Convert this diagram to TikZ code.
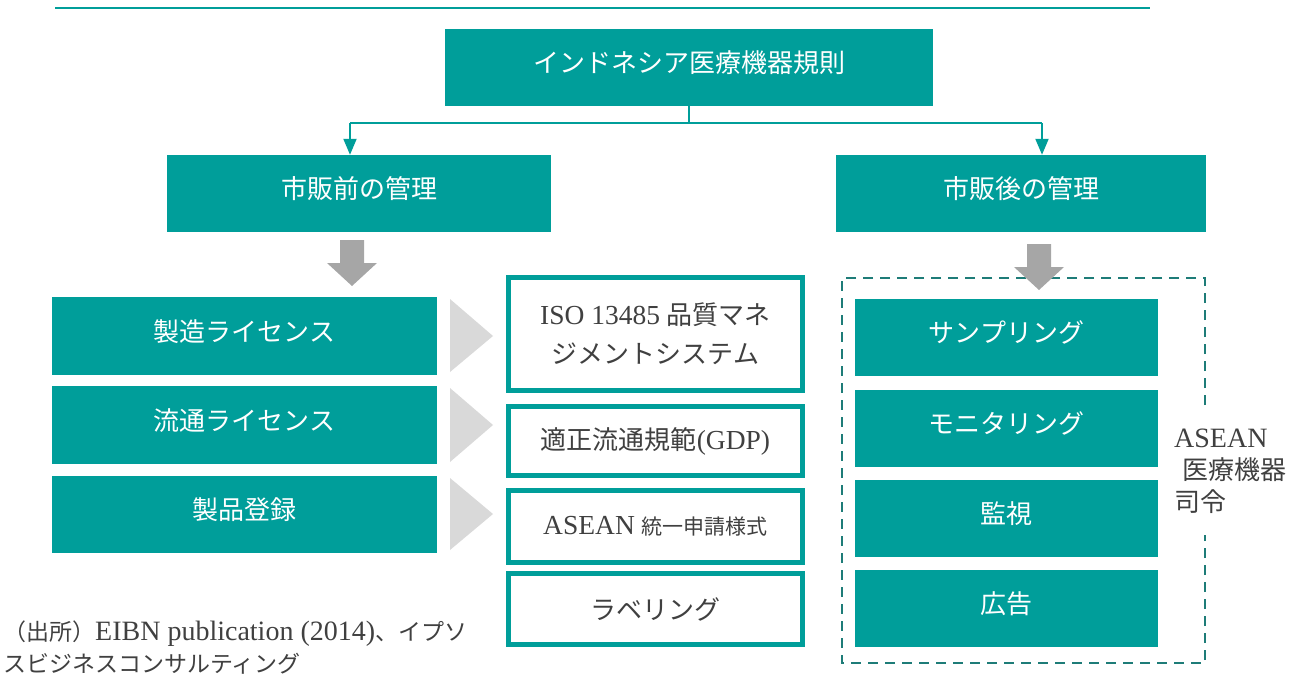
\documentclass[tikz,border=0pt]{standalone}
\usepackage{fontspec}
\setmainfont{Liberation Serif}
\newfontfamily\jp{Noto Sans CJK JP}
\usetikzlibrary{arrows.meta}
\definecolor{teal1}{HTML}{009E9A}
\definecolor{dteal}{HTML}{1E7C78}
\definecolor{txt}{HTML}{404040}
\definecolor{lgray}{HTML}{D9D9D9}
\definecolor{mgray}{HTML}{A6A6A6}
\newcommand{\jps}{\jp\fontsize{26}{39}\selectfont}
\newcommand{\jpsrc}{\jp\fontsize{23}{32}\selectfont}
\begin{document}
\begin{tikzpicture}[x=1pt,y=-1pt,
  fillbox/.style={fill=teal1, draw=none, text=white, font=\jp\fontsize{26}{30}\selectfont, inner sep=0pt, minimum height=77pt, text height=20pt, text depth=10pt},
  linebox/.style={draw=teal1, line width=5pt, fill=white, text=txt, font=\fontsize{27.5}{39}\selectfont, inner sep=0pt, align=center, minimum width=294pt},
  conn/.style={draw=teal1, line width=2pt},
  arr/.style={-{Triangle[width=13pt,length=16pt]}},
  dashbox/.style={draw=dteal, line width=2.5pt, dash pattern=on 10pt off 7pt},
  tri/.style={fill=lgray, draw=none},
  garrow/.style={fill=mgray, draw=none}]
\useasboundingbox (0,0) rectangle (1304,677);
% top rule
\draw[teal1, line width=1.5pt] (55,8) -- (1150,8);
% top box
\node[fillbox, minimum width=488pt] (top) at (689,67.5) {インドネシア医療機器規則};
\node[fillbox, minimum width=384pt] (L1) at (359,193.5) {市販前の管理};
\node[fillbox, minimum width=370pt] (R1) at (1021,193.5) {市販後の管理};
% connectors
\coordinate (hl) at (350,123);
\coordinate (hr) at (1042,123);
\draw[conn] (top.south) -- (top.south |- hl);
\draw[conn] (hl) -- (hr);
\draw[conn,arr] (hl) -- (hl |- L1.north);
\draw[conn,arr] (hr) -- (hr |- R1.north);
% left boxes
\node[fillbox, minimum width=385pt, minimum height=78pt] (a1) at (244.5,336) {製造ライセンス};
\node[fillbox, minimum width=385pt, minimum height=78pt] (a2) at (244.5,425) {流通ライセンス};
\node[fillbox, minimum width=385pt, minimum height=77pt] (a3) at (244.5,514.5) {製品登録};
% triangles
\fill[tri] (450,299) -- (493,336) -- (450,372) -- cycle;
\fill[tri] (450,388) -- (493,425) -- (450,462) -- cycle;
\fill[tri] (450,478) -- (493,514) -- (450,550) -- cycle;
% middle boxes
\node[linebox, minimum height=113pt] (b1) at (655.5,334) {ISO 13485 {\jps 品質マネ}\\{\jps ジメントシステム}};
\node[linebox, minimum height=69pt] (b2) at (655.5,441) {{\jps 適正流通規範}(GDP)};
\node[linebox, minimum height=72pt] (b3) at (655.5,526.5) {ASEAN {\jp\fontsize{21}{24}\selectfont 統一申請様式}};
\node[linebox, minimum height=71pt] (b4) at (655.5,609) {{\jps ラベリング}};
% dashed box
\draw[dashbox] (1205,405) -- (1205,278) -- (842,278) -- (842,663) -- (1205,663) -- (1205,535);
% right boxes
\node[fillbox, minimum width=303pt] (c1) at (1006.5,337.5) {サンプリング};
\node[fillbox, minimum width=303pt] (c2) at (1006.5,428.5) {モニタリング};
\node[fillbox, minimum width=303pt] (c3) at (1006.5,518.5) {監視};
\node[fillbox, minimum width=303pt] (c4) at (1006.5,608.5) {広告};
% gray arrows
\fill[garrow] (340,240) -- (364,240) -- (364,263) -- (377,263) -- (352,286) -- (327,263) -- (340,263) -- cycle;
\fill[garrow] (1027,244) -- (1051,244) -- (1051,267) -- (1064,267) -- (1039,290) -- (1014,267) -- (1027,267) -- cycle;
% ASEAN label
\node[anchor=north west, align=left, inner sep=0pt, text=txt, font=\fontsize{28}{32}\selectfont] (asean) at (1174,429) {ASEAN\\\hspace{8pt}{\jp\fontsize{26}{32}\selectfont 医療機器}\\{\jp\fontsize{26}{32}\selectfont 司令}};
% source
\node[anchor=north west, align=left, inner sep=0pt, text=txt, font=\fontsize{28}{32}\selectfont] (src) at (3,621) {{\jpsrc （出所）}EIBN publication (2014){\jpsrc 、イプソ}\\{\jpsrc スビジネスコンサルティング}};
\end{tikzpicture}
\end{document}
